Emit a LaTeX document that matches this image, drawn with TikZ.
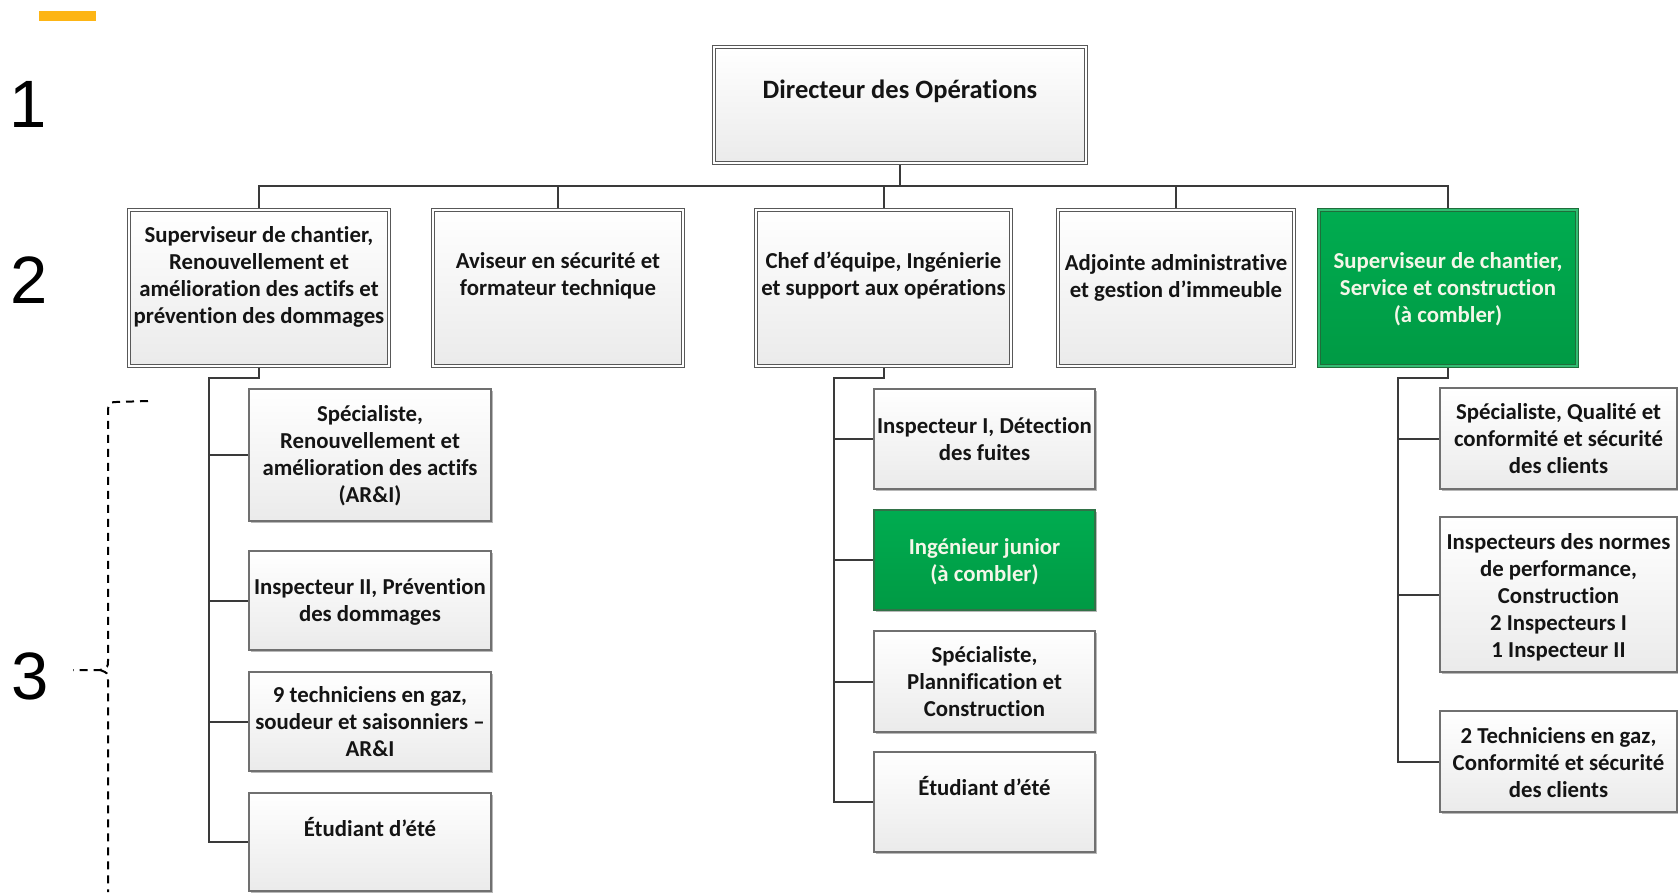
\documentclass[tikz,border=0pt]{standalone}
\usepackage{fontspec}
\setmainfont{Carlito}[Ligatures=NoCommon,RawFeature={-liga}]
\newfontfamily\digitfont{Liberation Sans}
\usetikzlibrary{shadows}
\pgfdeclarelayer{bg}
\pgfsetlayers{bg,main}
\definecolor{conn}{HTML}{3A3A3A}
\definecolor{bordA}{HTML}{585858}
\definecolor{bordB}{HTML}{707070}
\definecolor{grtop}{HTML}{00AC50}
\definecolor{grbot}{HTML}{009A44}
\definecolor{grdark}{HTML}{1F6E3A}
\definecolor{bar}{HTML}{FDB515}
\definecolor{gtxt}{HTML}{F4F6E8}
\tikzset{
  shad/.style={drop shadow={shadow xshift=1.5pt,shadow yshift=-1.5pt,opacity=0.28,fill=black}},
  lvltwo/.style={shad,draw=bordA,line width=1pt,double=white,double distance=2.4pt,
     top color=white,bottom color=black!8,inner sep=0pt},
  lvltwogreen/.style={shad,draw=grdark,line width=1pt,double=grtop!80!white,double distance=2.4pt,
     top color=grtop,bottom color=grbot,inner sep=0pt},
  lvlthree/.style={shad,draw=bordB,line width=1.4pt,top color=white,bottom color=black!8,inner sep=0pt},
  lvlthreegreen/.style={shad,draw=grdark!80!gray,line width=1.4pt,top color=grtop,bottom color=grbot,inner sep=0pt},
  txt/.style={font=\bfseries\fontsize{22.8}{27}\selectfont,align=center,inner sep=0pt,anchor=north,text=black!92},
  gtx/.style={txt,text=gtxt},
  conn/.style={draw=conn,line width=2pt},
  digit/.style={font=\digitfont\fontsize{67}{67}\selectfont,inner sep=0pt,text=black},
  brace/.style={black,line width=2pt,dash pattern=on 8pt off 6pt},
}
\newcommand\sst{\rule{0pt}{20pt}}
\begin{document}
\begin{tikzpicture}[x=1pt,y=-1pt]
\useasboundingbox (0,0) rectangle (1678,892);
\fill[bar] (39,11) rectangle (96,21);
\node[digit] (n1) at (28,104) {1};
\node[digit] (n2) at (29,280) {2};
\node[digit] (n3) at (30,676) {3};
% dashed brace
\draw[brace]
  (148,401) -- (116,402) .. controls (109,402) and (108,405) .. (108,412) -- (108,661)
  .. controls (108,667) .. (100,670) -- (73,670);
\draw[brace]
  (100,670) .. controls (108,673) .. (108,680) -- (108,892);
% top
\node[lvltwo,minimum width=371.5pt,minimum height=115.5pt] (top) at (900,105) {};
\node[txt,font=\bfseries\fontsize{26.5}{30}\selectfont] (ttop) at (900,78) {\sst Directeur des Opérations};
% level 2
\node[lvltwo,minimum width=259.5pt,minimum height=155.5pt] (s1) at (259,288) {};
\node[lvltwo,minimum width=249.5pt,minimum height=155.5pt] (s2) at (558,288) {};
\node[lvltwo,minimum width=254.5pt,minimum height=155.5pt] (s3) at (883.5,288) {};
\node[lvltwo,minimum width=235.5pt,minimum height=155.5pt] (s4) at (1176,288) {};
\node[lvltwogreen,minimum width=257.5pt,minimum height=155.5pt] (s5) at (1448,288) {};
\node[txt] (ts1) at (259,222) {\sst Superviseur de chantier,\\Renouvellement et\\amélioration des actifs et\\prévention des dommages};
\node[txt] (ts2) at (558,248) {\sst Aviseur en sécurité et\\formateur technique};
\node[txt] (ts3) at (883.5,248) {\sst Chef d’équipe, Ingénierie\\et support aux opérations};
\node[txt] (ts4) at (1176,250) {\sst Adjointe administrative\\et gestion d’immeuble};
\node[gtx] (ts5) at (1448,248) {\sst Superviseur de chantier,\\Service et construction\\(à combler)};
% level 3 left
\node[lvlthree,minimum width=242pt,minimum height=132pt] (a1) at (370,455) {};
\node[lvlthree,minimum width=242pt,minimum height=99pt] (a2) at (370,600.5) {};
\node[lvlthree,minimum width=242pt,minimum height=99pt] (a3) at (370,721.5) {};
\node[lvlthree,minimum width=242pt,minimum height=98pt] (a4) at (370,842) {};
\node[txt] (ta1) at (370,401) {\sst Spécialiste,\\Renouvellement et\\amélioration des actifs\\(AR\&I)};
\node[txt] (ta2) at (370,574) {\sst Inspecteur II, Prévention\\des dommages};
\node[txt] (ta3) at (370,682) {\sst 9 techniciens en gaz,\\soudeur et saisonniers –\\AR\&I};
\node[txt] (ta4) at (370,816) {\sst Étudiant d’été};
% level 3 middle
\node[lvlthree,minimum width=221pt,minimum height=100pt] (m1) at (984.5,439) {};
\node[lvlthreegreen,minimum width=221pt,minimum height=100pt] (m2) at (984.5,560) {};
\node[lvlthree,minimum width=221pt,minimum height=101pt] (m3) at (984.5,681.5) {};
\node[lvlthree,minimum width=221pt,minimum height=100pt] (m4) at (984.5,802) {};
\node[txt] (tm1) at (984.5,413) {\sst Inspecteur I, Détection\\des fuites};
\node[gtx] (tm2) at (984.5,534) {\sst Ingénieur junior\\(à combler)};
\node[txt] (tm3) at (984.5,642) {\sst Spécialiste,\\Plannification et\\Construction};
\node[txt] (tm4) at (984.5,775) {\sst Étudiant d’été};
% level 3 right
\node[lvlthree,minimum width=237pt,minimum height=101pt] (r1) at (1558.5,438.5) {};
\node[lvlthree,minimum width=237pt,minimum height=155pt] (r2) at (1558.5,594.5) {};
\node[lvlthree,minimum width=237pt,minimum height=101pt] (r3) at (1558.5,761.5) {};
\node[txt] (tr1) at (1558.5,399) {\sst Spécialiste, Qualité et\\conformité et sécurité\\des clients};
\node[txt] (tr2) at (1558.5,529) {\sst Inspecteurs des normes\\de performance,\\Construction\\2 Inspecteurs I\\1 Inspecteur II};
\node[txt] (tr3) at (1558.5,723) {\sst 2 Techniciens en gaz,\\Conformité et sécurité\\des clients};
% connectors
\coordinate (hb) at (900,186);
\coordinate (lv) at (209,378);
\coordinate (mv) at (834,378);
\coordinate (rv) at (1398,378);
\begin{pgfonlayer}{bg}
\draw[conn] (top.south) -- (top.south |- hb);
\draw[conn] (s1.north) |- (s5.north |- hb) -- (s5.north);
\draw[conn] (s2.north) -- (s2.north |- hb);
\draw[conn] (s3.north) -- (s3.north |- hb);
\draw[conn] (s4.north) -- (s4.north |- hb);
\draw[conn] (s1.south) |- (lv) -- (lv |- a4.west) -- (a4.west);
\draw[conn] (lv |- a1.west) -- (a1.west);
\draw[conn] (lv |- a2.west) -- (a2.west);
\draw[conn] (lv |- a3.west) -- (a3.west);
\draw[conn] (s3.south) |- (mv) -- (mv |- m4.west) -- (m4.west);
\draw[conn] (mv |- m1.west) -- (m1.west);
\draw[conn] (mv |- m2.west) -- (m2.west);
\draw[conn] (mv |- m3.west) -- (m3.west);
\draw[conn] (s5.south) |- (rv) -- (rv |- r3.west) -- (r3.west);
\draw[conn] (rv |- r1.west) -- (r1.west);
\draw[conn] (rv |- r2.west) -- (r2.west);
\end{pgfonlayer}
\end{tikzpicture}
\end{document}
